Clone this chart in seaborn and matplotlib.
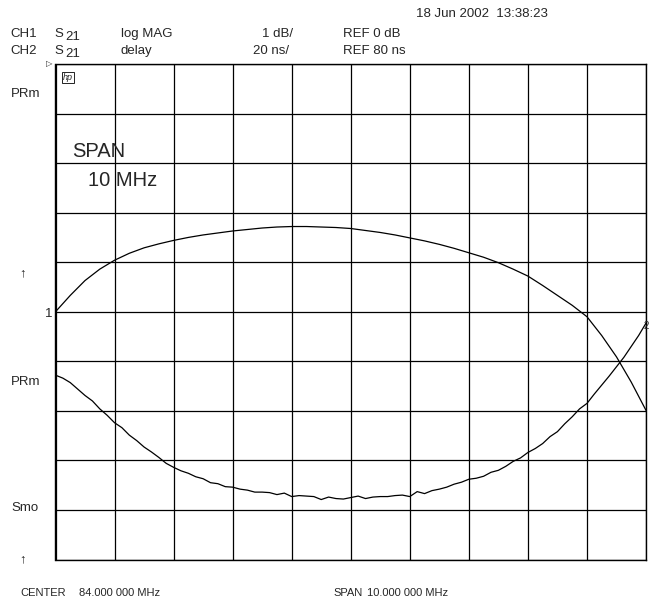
import numpy as np
import pandas as pd
import seaborn as sns
import matplotlib.pyplot as plt

# sweep: center 84 MHz, span 10 MHz
f_start, f_stop = 79.0, 89.0

# CH1 S21 log MAG (dB), read every 0.25 MHz
mag_db = [0.00, 0.33, 0.63, 0.86, 1.04, 1.18, 1.29, 1.37, 1.44, 1.50,
          1.55, 1.59, 1.63, 1.66, 1.69, 1.71, 1.72, 1.72, 1.71, 1.70,
          1.68, 1.64, 1.60, 1.55, 1.49, 1.43, 1.36, 1.28, 1.19, 1.10,
          0.99, 0.86, 0.72, 0.53, 0.33, 0.13, -0.10, -0.48, -0.91, -1.42,
          -1.99]

# CH2 S21 group delay (ns), read every 0.125 MHz
delay_ns = [54.4, 53.2, 51.4, 48.8, 46.2, 44.0, 40.8, 38.2, 35.2, 33.2,
            30.2, 28.0, 25.4, 23.4, 21.2, 18.8, 17.2, 15.8, 14.8, 13.4,
            12.6, 11.0, 10.6, 9.4, 9.2, 8.4, 8.0, 7.2, 7.2, 7.0,
            6.2, 6.8, 5.4, 5.8, 5.6, 5.4, 4.2, 5.2, 4.6, 4.4,
            5.0, 5.6, 4.6, 5.2, 5.4, 5.4, 5.8, 6.0, 5.4, 7.4,
            6.6, 7.8, 8.4, 9.2, 10.4, 11.2, 12.4, 12.8, 13.6, 15.2,
            16.0, 17.6, 19.6, 21.0, 23.2, 24.8, 26.8, 29.6, 31.6, 34.8,
            37.6, 40.8, 43.0, 46.8, 50.4, 54.0, 57.8, 61.6, 66.0, 70.4,
            75.4]

# scale settings (per division, reference value at centre line)
ch1_scale, ch1_ref = 1.0, 0.0
ch2_scale, ch2_ref = 20.0, 80.0

df1 = pd.DataFrame({'freq': np.linspace(f_start, f_stop, len(mag_db)),
                    'div': 5 + (np.array(mag_db) - ch1_ref) / ch1_scale})
df2 = pd.DataFrame({'freq': np.linspace(f_start, f_stop, len(delay_ns)),
                    'div': 5 + (np.array(delay_ns) - ch2_ref) / ch2_scale})

sns.set_style('white')
plt.rcParams['font.family'] = ['Liberation Sans', 'DejaVu Sans']

W, H = 650, 602
fig = plt.figure(figsize=(W / 100, H / 100), dpi=100)
ax = fig.add_axes([55.5 / W, 1 - 559.5 / H, (646 - 55.5) / W, (559.5 - 64) / H])

sns.lineplot(data=df1, x='freq', y='div', ax=ax, color='black', linewidth=0.9)
sns.lineplot(data=df2, x='freq', y='div', ax=ax, color='black', linewidth=0.9)

ax.set_xlim(f_start, f_stop)
ax.set_ylim(0, 10)
ax.set_xticks(np.arange(f_start, f_stop + 0.5, 1.0))
ax.set_yticks(np.arange(0, 11, 1))
ax.grid(True, color='black', linewidth=0.9)
ax.tick_params(length=0, labelbottom=False, labelleft=False)
ax.set_xlabel('')
ax.set_ylabel('')
for s in ax.spines.values():
    s.set_color('black')
    s.set_linewidth(1.0)


def put(x, y, s, size=9.5, **kw):
    fig.text(x / W, 1 - y / H, s, fontsize=size, va='baseline', **kw)


put(416, 17, '18 Jun 2002  13:38:23')
put(10, 37, 'CH1')
put(54, 37, 'S')
put(65, 40, '21')
put(120.5, 37, 'log MAG')
put(293, 37, '1 dB/', ha='right')
put(343, 37, 'REF 0 dB')
put(10, 54, 'CH2')
put(54, 54, 'S')
put(65, 57, '21')
put(120.5, 54, 'delay')
put(289, 54, '20 ns/', ha='right')
put(343, 54, 'REF 80 ns')

put(11, 97, 'PRm')
put(19, 276, '↑')
put(52, 317, '1', ha='right')
put(11, 385, 'PRm')
put(11, 511, 'Smo')
put(19, 562, '↑')
put(46, 66, '▷', size=6, family=['DejaVu Sans'])
put(63, 80, 'hp', size=6.5, style='italic',
    bbox=dict(boxstyle='square,pad=0.15', fc='white', ec='black', lw=0.6))
put(644, 329, '2', size=7)

put(72, 157, 'SPAN', size=14.5)
put(88, 186, '10 MHz', size=14.5)

put(20.5, 596, 'CENTER', size=8)
put(79, 596, '84.000 000 MHz', size=8)
put(333, 596, 'SPAN', size=8)
put(367, 596, '10.000 000 MHz', size=8)

fig.savefig('out.png', dpi=100)
